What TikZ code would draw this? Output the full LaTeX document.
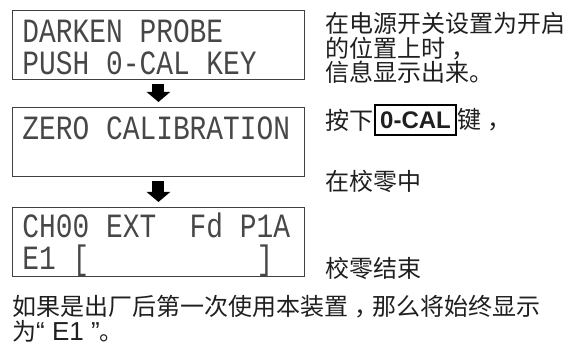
\documentclass[tikz,border=0pt]{standalone}
\usepackage{fontspec}
\setmainfont{Noto Sans CJK SC}
\newfontfamily\lcdfont[FakeStretch=0.82]{Liberation Mono}
\newfontfamily\keyfont{Liberation Sans}
\usetikzlibrary{arrows.meta,positioning}

% one blank cell of the display, and a line strut for its rows
\newcommand\lcdsp{\hphantom{0}}
\newcommand\lcdstrut{\rule[-2pt]{0pt}{32pt}}
% full-width comma sitting a little to the right
\newcommand\zcomma{\kern6pt，\kern-6pt}

\tikzset{
  lcdbox/.style={draw=black!75, line width=0.9pt, anchor=north west,
    minimum width=292pt, minimum height=69pt, text width=272pt,
    inner xsep=10pt, inner ysep=0pt, align=left, text=black!72,
    font=\lcdfont\fontsize{34}{32}\selectfont},
  note/.style={inner sep=0pt, align=left, text=black!88,
    font=\fontsize{24}{24.5}\selectfont},
  keycap/.style={draw=black, line width=1.6pt, inner xsep=5pt, inner ysep=0pt,
    minimum height=30pt, text=black!88,
    font=\keyfont\bfseries\fontsize{24}{24}\selectfont},
  flowarrow/.style={line width=12pt, black,
    -{Triangle[width=23pt,length=10pt]}}
}

\begin{document}
\begin{tikzpicture}[x=1pt,y=-1pt]
\useasboundingbox (0,0) rectangle (571,347);
% display screens
\node[lcdbox] (lcd1) at (12,10) {\lcdstrut DARKEN\lcdsp PROBE\\\lcdstrut PUSH\lcdsp 0-CAL\lcdsp KEY};
\node[lcdbox] (lcd2) at (12,107) {\lcdstrut ZERO\lcdsp CALIBRATION\\\lcdstrut};
\node[lcdbox] (lcd3) at (12,207) {\lcdstrut CH00\lcdsp EXT\lcdsp\lcdsp Fd\lcdsp P1A\\
  \lcdstrut E1\lcdsp[\lcdsp\lcdsp\lcdsp\lcdsp\lcdsp\lcdsp\lcdsp\lcdsp\lcdsp\lcdsp]};
\draw[flowarrow, shorten <=4pt, shorten >=5pt] (lcd1.south) -- (lcd2.north);
\draw[flowarrow, shorten <=4pt, shorten >=5pt] (lcd2.south) -- (lcd3.north);
% notes on the right
\node[note, anchor=west] (poweron) at (325,48) {在电源开关设置为开启\\的位置上时\zcomma\\信息显示出来。};
\node[note, anchor=west] (press) at (325,120) {按下};
\node[keycap, right=1pt of press] (key) {0-CAL};
\node[note, right=1pt of key] (keyend) {键\zcomma};
\node[note, anchor=west] (running) at (325,181) {在校零中};
\node[note, anchor=west] (finished) at (325,268) {校零结束};
% remark at the bottom
\node[note, anchor=west] (remark) at (12,318.5) {如果是出厂后第一次使用本装置\zcomma 那么将始终显示\\为{\keyfont\fontsize{26}{24.5}\selectfont “ E1 ”}。};
\end{tikzpicture}
\end{document}
